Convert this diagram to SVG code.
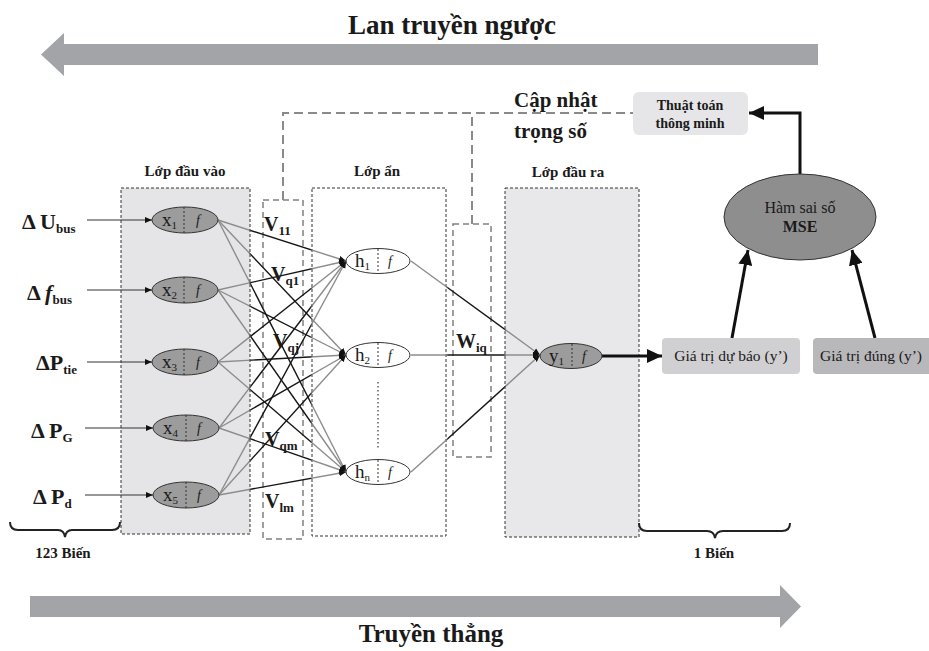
<svg xmlns="http://www.w3.org/2000/svg" width="929" height="651" viewBox="0 0 929 651">
<style>
text{font-family:"Liberation Serif","Times New Roman",serif;fill:#1a1a1a}
.b{font-weight:bold}
.title{font-size:27px;font-weight:bold}
.lay{font-size:15px;font-weight:bold}
.inl{font-size:22px;font-weight:bold}
.sub{font-size:13px;font-weight:bold}
.nt{font-size:19px}
.ns{font-size:11px}
.fi{font-size:14px;font-style:italic}
.vl{font-size:20px;font-weight:bold}
.vs{font-size:13px}
.box{stroke:#333;stroke-width:1;stroke-dasharray:3,2}
.wbox{fill:none;stroke:#808080;stroke-width:1.5;stroke-dasharray:6,4}
.upd{fill:none;stroke:#8a8a8a;stroke-width:2;stroke-dasharray:9,5}
.div{stroke:#333;stroke-width:1;stroke-dasharray:2,2}
.inn{fill:#9c9c9c;stroke:#333;stroke-width:1}
.hid{fill:#fff;stroke:#333;stroke-width:1}
.thin{stroke:#333;stroke-width:1;fill:none}
.thick{stroke:#111;stroke-width:3;fill:none}
.c1{stroke:url(#g1);stroke-width:1.4;fill:none}
.c2{stroke:url(#g2);stroke-width:1.4;fill:none}
</style>
<defs>
<marker id="sa" markerUnits="userSpaceOnUse" markerWidth="8" markerHeight="8" refX="7" refY="4" orient="auto">
<path d="M0,1 L7,4 L0,7 Z" fill="#111"/>
</marker>
<marker id="ba" markerUnits="userSpaceOnUse" markerWidth="16" markerHeight="14" refX="15" refY="7" orient="auto">
<path d="M0,0 L15,7 L0,14 Z" fill="#111"/>
</marker>
<linearGradient id="g1" gradientUnits="userSpaceOnUse" x1="218" y1="0" x2="346" y2="0">
<stop offset="0" stop-color="#8c8c8c"/>
<stop offset="0.24" stop-color="#8c8c8c"/>
<stop offset="0.26" stop-color="#151515"/>
<stop offset="0.72" stop-color="#151515"/>
<stop offset="0.74" stop-color="#8c8c8c"/>
<stop offset="1" stop-color="#8c8c8c"/>
</linearGradient>
<linearGradient id="g2" gradientUnits="userSpaceOnUse" x1="411" y1="0" x2="540" y2="0">
<stop offset="0" stop-color="#8c8c8c"/>
<stop offset="0.27" stop-color="#8c8c8c"/>
<stop offset="0.29" stop-color="#151515"/>
<stop offset="0.72" stop-color="#151515"/>
<stop offset="0.74" stop-color="#8c8c8c"/>
<stop offset="1" stop-color="#8c8c8c"/>
</linearGradient>
</defs>
<rect width="929" height="651" fill="#fff"/>

<!-- big direction arrows -->
<g id="backprop">
<path d="M818,44 L64,44 L64,33 L41,54.5 L64,76 L64,65 L818,65 Z" fill="#a3a4a8"/>
<text x="452" y="34" text-anchor="middle" class="title">Lan truyền ngược</text>
</g>
<g id="forward">
<path d="M30,596 L780,596 L780,585 L801,606.5 L780,628 L780,617 L30,617 Z" fill="#a3a4a8"/>
<text x="431" y="642" text-anchor="middle" class="b" font-size="25">Truyền thẳng</text>
</g>

<!-- layer boxes -->
<g id="input-layer">
<rect x="121" y="188" width="129" height="346" fill="#e5e5e7" class="box"/>
<text x="185" y="176" text-anchor="middle" class="lay">Lớp đầu vào</text>
</g>
<g id="v-weights">
<rect x="263" y="200" width="40" height="339" class="wbox"/>
</g>
<g id="hidden-layer">
<rect x="312" y="188" width="134" height="348" fill="none" class="box"/>
<text x="377" y="176" text-anchor="middle" class="lay">Lớp ẩn</text>
</g>
<g id="w-weights">
<rect x="453" y="224" width="38" height="233" class="wbox"/>
</g>
<g id="output-layer">
<rect x="505" y="188" width="134" height="349" fill="#e8e8ea" class="box"/>
<text x="568" y="177" text-anchor="middle" class="lay">Lớp đầu ra</text>
</g>

<!-- connectors -->
<g id="connectors">
<path class="upd" d="M283,200 L283,113 L633,113"/>
<path class="upd" d="M472,224 L472,113"/>
<line class="thin" x1="87" y1="220" x2="152" y2="220" marker-end="url(#sa)"/>
<line class="thin" x1="87" y1="290" x2="152" y2="290" marker-end="url(#sa)"/>
<line class="thin" x1="87" y1="362" x2="152" y2="362" marker-end="url(#sa)"/>
<line class="thin" x1="85" y1="428" x2="153" y2="428" marker-end="url(#sa)"/>
<line class="thin" x1="85" y1="495" x2="153" y2="495" marker-end="url(#sa)"/>

<line class="c1" x1="218" y1="220" x2="346" y2="261" marker-end="url(#sa)"/>
<line class="c1" x1="218" y1="220" x2="346" y2="355" marker-end="url(#sa)"/>
<line class="c1" x1="218" y1="220" x2="346" y2="472" marker-end="url(#sa)"/>
<line class="c1" x1="218" y1="290" x2="346" y2="261" marker-end="url(#sa)"/>
<line class="c1" x1="218" y1="290" x2="346" y2="355" marker-end="url(#sa)"/>
<line class="c1" x1="218" y1="290" x2="346" y2="472" marker-end="url(#sa)"/>
<line class="c1" x1="218" y1="362" x2="346" y2="261" marker-end="url(#sa)"/>
<line class="c1" x1="218" y1="362" x2="346" y2="355" marker-end="url(#sa)"/>
<line class="c1" x1="218" y1="362" x2="346" y2="472" marker-end="url(#sa)"/>
<line class="c1" x1="219" y1="428" x2="346" y2="261" marker-end="url(#sa)"/>
<line class="c1" x1="219" y1="428" x2="346" y2="355" marker-end="url(#sa)"/>
<line class="c1" x1="219" y1="428" x2="346" y2="472" marker-end="url(#sa)"/>
<line class="c1" x1="219" y1="495" x2="346" y2="261" marker-end="url(#sa)"/>
<line class="c1" x1="219" y1="495" x2="346" y2="355" marker-end="url(#sa)"/>
<line class="c1" x1="219" y1="495" x2="346" y2="472" marker-end="url(#sa)"/>

<line class="c2" x1="411" y1="261" x2="540" y2="355" marker-end="url(#sa)"/>
<line class="c2" x1="411" y1="355" x2="540" y2="355.01" marker-end="url(#sa)"/>
<line class="c2" x1="411" y1="472" x2="540" y2="355" marker-end="url(#sa)"/>

<line class="thick" x1="602" y1="356" x2="662" y2="356" marker-end="url(#ba)"/>
<line class="thick" x1="732" y1="338" x2="748" y2="250" marker-end="url(#ba)"/>
<line class="thick" x1="875" y1="338" x2="852" y2="250" marker-end="url(#ba)"/>
<path class="thick" d="M800,174 L800,113 L749,113" marker-end="url(#ba)"/>
<line x1="378" y1="382" x2="378" y2="448" stroke="#333" stroke-width="1.2" stroke-dasharray="1.5,2.5"/>
</g>

<!-- input labels -->
<g id="input-labels">
<text x="22" y="229" class="inl">Δ U<tspan class="sub" dy="4">bus</tspan></text>
<text x="27" y="300" class="inl">Δ <tspan font-style="italic">f</tspan><tspan class="sub" dy="4">bus</tspan></text>
<text x="36" y="370" class="inl">ΔP<tspan class="sub" dy="4">tie</tspan></text>
<text x="31" y="438" class="inl">Δ P<tspan class="sub" dy="4">G</tspan></text>
<text x="33" y="504" class="inl">Δ P<tspan class="sub" dy="4">d</tspan></text>
</g>

<!-- input nodes -->
<g id="x1"><ellipse cx="185" cy="220" rx="33" ry="13" class="inn"/><line x1="184" y1="207" x2="184" y2="233" class="div"/><text x="162" y="226" class="nt">x<tspan class="ns" dy="3">1</tspan></text><text x="196" y="225" class="fi">f</text></g>
<g id="x2"><ellipse cx="185" cy="290" rx="33" ry="13" class="inn"/><line x1="184" y1="277" x2="184" y2="303" class="div"/><text x="162" y="296" class="nt">x<tspan class="ns" dy="3">2</tspan></text><text x="196" y="295" class="fi">f</text></g>
<g id="x3"><ellipse cx="185" cy="362" rx="33" ry="13" class="inn"/><line x1="184" y1="349" x2="184" y2="375" class="div"/><text x="162" y="368" class="nt">x<tspan class="ns" dy="3">3</tspan></text><text x="196" y="367" class="fi">f</text></g>
<g id="x4"><ellipse cx="186" cy="428" rx="33" ry="13" class="inn"/><line x1="186" y1="415" x2="186" y2="441" class="div"/><text x="163" y="434" class="nt">x<tspan class="ns" dy="3">4</tspan></text><text x="197" y="433" class="fi">f</text></g>
<g id="x5"><ellipse cx="186" cy="495" rx="33" ry="13" class="inn"/><line x1="186" y1="482" x2="186" y2="508" class="div"/><text x="163" y="501" class="nt">x<tspan class="ns" dy="3">5</tspan></text><text x="197" y="500" class="fi">f</text></g>

<!-- hidden nodes -->
<g id="h1"><ellipse cx="378" cy="261" rx="32" ry="12.5" class="hid"/><line x1="378" y1="249" x2="378" y2="273" class="div"/><text x="355" y="267" class="nt">h<tspan class="ns" dy="3">1</tspan></text><text x="388" y="266" class="fi">f</text></g>
<g id="h2"><ellipse cx="378" cy="355" rx="32" ry="12.5" class="hid"/><line x1="378" y1="343" x2="378" y2="367" class="div"/><text x="355" y="361" class="nt">h<tspan class="ns" dy="3">2</tspan></text><text x="388" y="360" class="fi">f</text></g>
<g id="hn"><ellipse cx="378" cy="472" rx="32" ry="12.5" class="hid"/><line x1="378" y1="460" x2="378" y2="484" class="div"/><text x="355" y="478" class="nt">h<tspan class="ns" dy="3">n</tspan></text><text x="388" y="477" class="fi">f</text></g>

<!-- output node -->
<g id="y1"><ellipse cx="571" cy="356" rx="31" ry="12.5" class="inn"/><line x1="572" y1="344" x2="572" y2="368" class="div"/><text x="549" y="362" class="nt">y<tspan class="ns" dy="3">1</tspan></text><text x="582" y="361" class="fi">f</text></g>

<!-- weight labels -->
<g id="weight-labels">
<text x="264" y="231" class="vl">V<tspan class="vs" dy="4">11</tspan></text>
<text x="271" y="281" class="vl">V<tspan class="vs" dy="4">q1</tspan></text>
<text x="273" y="348" class="vl">V<tspan class="vs" dy="4">qj</tspan></text>
<text x="265" y="446" class="vl">V<tspan class="vs" dy="4">qm</tspan></text>
<text x="265" y="508" class="vl">V<tspan class="vs" dy="4">lm</tspan></text>
<text x="456" y="348" class="vl">W<tspan class="vs" dy="4">iq</tspan></text>
</g>

<!-- update label -->
<g id="update-label">
<text x="514" y="107" class="b" font-size="21">Cập nhật</text>
<text x="514" y="138" class="b" font-size="21">trọng số</text>
</g>

<g id="algo">
<rect x="633" y="92" width="115" height="43" rx="6" fill="#e6e6e8"/>
<text x="690" y="110" text-anchor="middle" class="b" font-size="14">Thuật toán</text>
<text x="690" y="128" text-anchor="middle" class="b" font-size="14">thông minh</text>
</g>

<g id="mse">
<ellipse cx="800" cy="217" rx="76" ry="43" fill="#8e8e8e" stroke="#333" stroke-width="1"/>
<text x="800" y="213" text-anchor="middle" font-size="16">Hàm sai số</text>
<text x="800" y="232" text-anchor="middle" class="b" font-size="16">MSE</text>
</g>

<g id="pred">
<rect x="662" y="338" width="138" height="36" rx="4" fill="#d0d0d2"/>
<text x="731" y="361" text-anchor="middle" font-size="15.5">Giá trị dự báo (y’)</text>
</g>
<g id="true">
<rect x="813" y="338" width="125" height="36" rx="4" fill="#b8b8bb"/>
<text x="871" y="361" text-anchor="middle" font-size="15.5">Giá trị đúng (y’)</text>
</g>

<!-- braces -->
<g id="brace-in">
<path d="M10,522 Q10,530 18,530 L58,530 Q64,530 65,537 Q66,530 72,530 L112,530 Q120,530 120,522" fill="none" stroke="#222" stroke-width="2"/>
<text x="63" y="558" text-anchor="middle" class="b" font-size="15">123 Biến</text>
</g>
<g id="brace-out">
<path d="M639,523 Q639,531 647,531 L707,531 Q714,531 715,538 Q716,531 723,531 L782,531 Q790,531 790,523" fill="none" stroke="#222" stroke-width="2"/>
<text x="714" y="558" text-anchor="middle" class="b" font-size="15">1 Biến</text>
</g>
</svg>
